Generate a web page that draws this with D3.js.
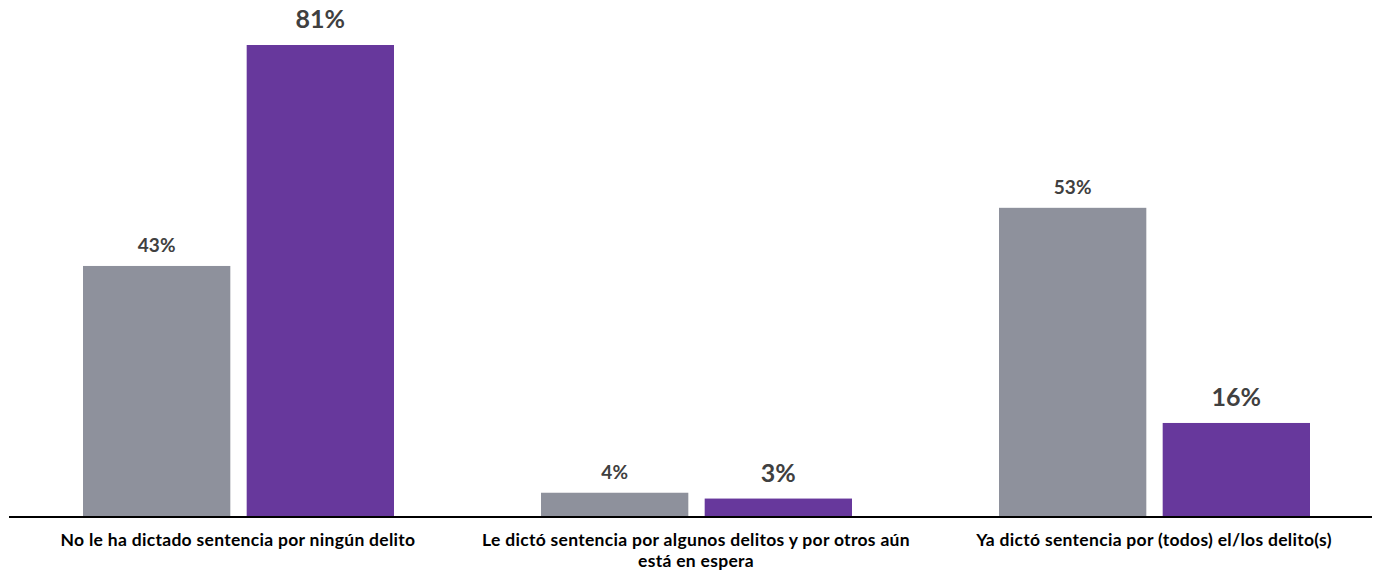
<!DOCTYPE html>
<html><head><meta charset="utf-8">
<script src="https://cdn.jsdelivr.net/npm/d3@7"></script>
<style>
html,body{margin:0;padding:0;background:#fff;}
svg{display:block;font-family:Lato,"Open Sans",sans-serif;}
</style></head>
<body>
<svg id="chart" width="1382" height="573"></svg>
<script>
const categories = [
  "No le ha dictado sentencia por ningún delito",
  "Le dictó sentencia por algunos delitos y por otros aún está en espera",
  "Ya dictó sentencia por (todos) el/los delito(s)"
];
const categoryLines = [
  ["No le ha dictado sentencia por ningún delito"],
  ["Le dictó sentencia por algunos delitos y por otros aún", "está en espera"],
  ["Ya dictó sentencia por (todos) el/los delito(s)"]
];
const seriesNames = ["Serie gris", "Serie morada"];
const seriesGrey = [43, 4, 53];
const seriesPurple = [81, 3, 16];
const valueLabelsGrey = ["43%", "4%", "53%"];
const valueLabelsPurple = ["81%", "3%", "16%"];

const colors = {"Serie gris": "#8e919c", "Serie morada": "#67389c"};

const svg = d3.select("#chart");
const baseY = 516;

const x0 = d3.scaleBand().domain(categories).range([9.5, 1383.5]).padding(0);
const x1 = d3.scaleBand().domain(seriesNames).range([73.5, 384.5]).paddingInner(0.1).paddingOuter(0);
const y = d3.scaleLinear().domain([0, 81]).range([baseY, 45]);

const rows = categories.map((c, i) => ({
  cat: c,
  vals: [
    {s: seriesNames[0], v: seriesGrey[i], label: valueLabelsGrey[i]},
    {s: seriesNames[1], v: seriesPurple[i], label: valueLabelsPurple[i]}
  ]
}));

const g = svg.selectAll("g.grp").data(rows).join("g")
  .attr("class", "grp")
  .attr("transform", d => `translate(${x0(d.cat)},0)`);

g.selectAll("rect").data(d => d.vals).join("rect")
  .attr("x", d => x1(d.s))
  .attr("width", x1.bandwidth())
  .attr("y", d => y(d.v))
  .attr("height", d => baseY - y(d.v))
  .attr("fill", d => colors[d.s]);

g.selectAll("text.val").data(d => d.vals).join("text")
  .attr("class", "val")
  .attr("x", d => x1(d.s) + x1.bandwidth() / 2)
  .attr("y", d => y(d.v) - (d.s === seriesNames[0] ? 14 : 17))
  .attr("text-anchor", "middle")
  .attr("fill", "#404040")
  .attr("font-weight", "bold")
  .attr("font-size", d => d.s === seriesNames[0] ? "19px" : "25px")
  .text(d => d.label);

// axis line
svg.append("line")
  .attr("x1", 9).attr("x2", 1372)
  .attr("y1", baseY + 1).attr("y2", baseY + 1)
  .attr("stroke", "#000").attr("stroke-width", 2.2);

// category labels
const lab = svg.selectAll("text.cat").data(categories).join("text")
  .attr("class", "cat")
  .attr("text-anchor", "middle")
  .attr("font-weight", "bold")
  .attr("font-size", "17.5px")
  .attr("letter-spacing", "0.3px")
  .attr("fill", "#000")
  .attr("x", d => x0(d) + x0.bandwidth() / 2 - 0.5)
  .attr("y", 546);
lab.each(function(d, i) {
  d3.select(this).selectAll("tspan").data(categoryLines[i]).join("tspan")
    .attr("x", x0(d) + x0.bandwidth() / 2 - 0.5)
    .attr("dy", (t, j) => j === 0 ? 0 : 21)
    .text(t => t);
});
</script>
</body></html>
